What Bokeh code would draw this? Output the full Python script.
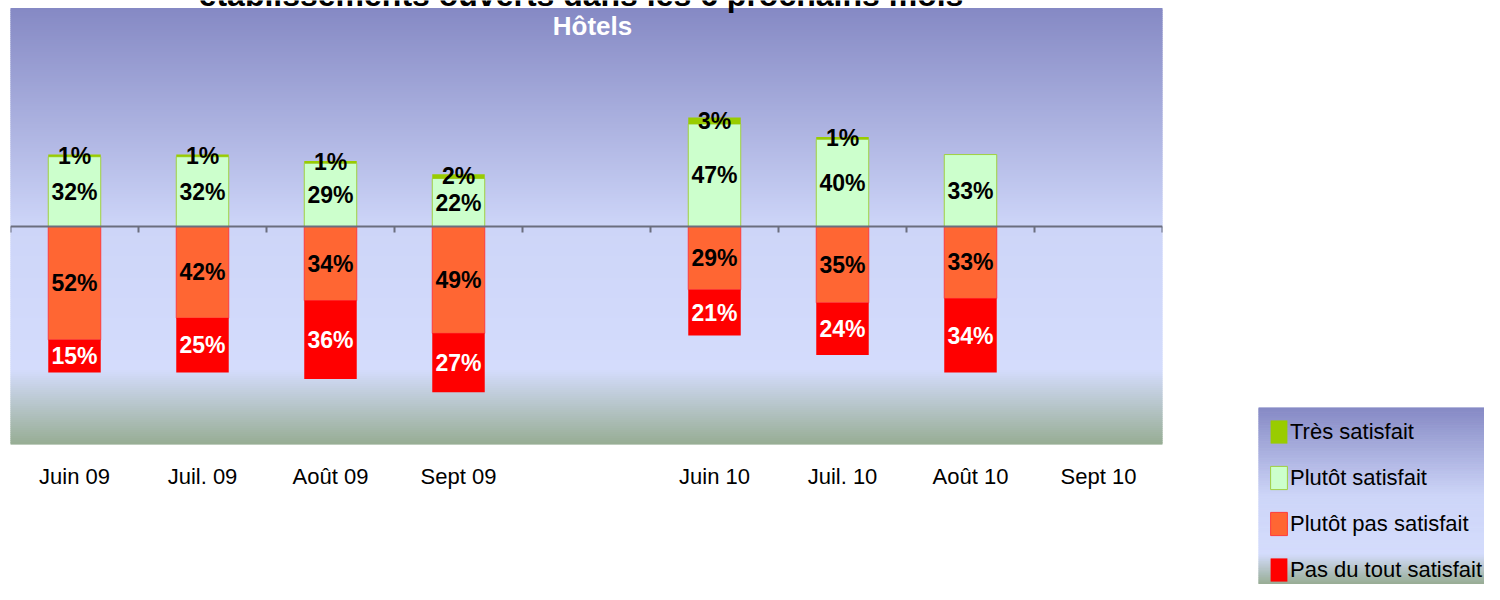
import numpy as np
from bokeh.plotting import figure
from bokeh.models import ColumnDataSource, Range1d, FixedTicker, Span, Label, Legend, LegendItem
from bokeh.layouts import row
from bokeh.core.properties import value
from bokeh.embed import file_html
from bokeh.resources import INLINE

# ---------------- data ----------------
categories = ["Juin 09", "Juil. 09", "Août 09", "Sept 09", "",
              "Juin 10", "Juil. 10", "Août 10", "Sept 10"]
tres_satisfait = [1, 1, 1, 2, None, 3, 1, None, None]
plutot_satisfait = [32, 32, 29, 22, None, 47, 40, 33, None]
plutot_pas_satisfait = [52, 42, 34, 49, None, 29, 35, 33, None]
pas_du_tout_satisfait = [15, 25, 36, 27, None, 21, 24, 34, None]

series_names = ["Très satisfait", "Plutôt satisfait", "Plutôt pas satisfait", "Pas du tout satisfait"]
series_colors = ["#99cc00", "#ccffcc", "#ff6633", "#ff0000"]
series_lines = [None, "#a0d040", "#ff3b3b", None]
label_colors = ["black", "black", "black", "white"]

title_text = "établissements ouverts dans les 6 prochains mois"
subtitle_text = "Hôtels"

FONT = "Liberation Sans"

# ---------------- gradient helper ----------------
stops = [(0.0, "#8589c4"), (0.5, "#cdd5f8"), (0.83, "#d4dcfc"), (1.0, "#97ad94")]


def hex2rgb(h):
    h = h.lstrip("#")
    return np.array([int(h[i:i + 2], 16) for i in (0, 2, 4)], dtype=float)


def grad_color(t):
    for (t0, c0), (t1, c1) in zip(stops[:-1], stops[1:]):
        if t <= t1:
            f = (t - t0) / (t1 - t0) if t1 > t0 else 0
            c = hex2rgb(c0) * (1 - f) + hex2rgb(c1) * f
            return "#%02x%02x%02x" % tuple(int(round(v)) for v in c)
    return stops[-1][1]


def add_gradient(fig, x0, x1, ytop, ybot, n=200):
    edges = np.linspace(ytop, ybot, n + 1)
    tops = edges[:-1]
    bots = edges[1:]
    cols = [grad_color((k + 0.5) / n) for k in range(n)]
    fig.quad(left=x0, right=x1, top=tops, bottom=bots, fill_color=cols, line_color=cols, line_width=1)


# ---------------- main figure ----------------
n = len(categories)
y_lo, y_hi = -100, 100
frame_h = 444
top_gap_px = 8                       # white strip above the chart area (title zone)
px = (y_hi - y_lo) / (frame_h - top_gap_px)
p = figure(width=1250, height=584, output_backend="svg", toolbar_location=None,
           x_range=Range1d(-0.5, n - 0.5), y_range=Range1d(y_lo, y_hi + top_gap_px * px),
           y_axis_location=None, min_border_left=10, min_border_right=88,
           min_border_top=0, min_border_bottom=584 - frame_h, frame_align=False)
p.outline_line_color = None
p.grid.visible = False
p.background_fill_color = "white"
p.border_fill_color = "white"

add_gradient(p, -0.5, n - 0.5, y_hi, y_lo, n=218)

# build stacked segments
seg = {k: dict(x=[], bottom=[], top=[], mid=[], txt=[]) for k in range(4)}
for i in range(n):
    ps = plutot_satisfait[i]
    if ps is None:
        continue
    ts = tres_satisfait[i]
    pp = plutot_pas_satisfait[i]
    pd_ = pas_du_tout_satisfait[i]
    parts = [
        (1, 0, ps, ps),
        (0, ps, ps + ts if ts else None, ts),
        (2, -pp, 0, pp),
        (3, -pp - pd_, -pp, pd_),
    ]
    for k, b, t, v in parts:
        if v is None or t is None:
            continue
        seg[k]["x"].append(i)
        seg[k]["bottom"].append(b)
        seg[k]["top"].append(t)
        seg[k]["mid"].append((b + t) / 2)
        seg[k]["txt"].append("%d%%" % v)

for k in [1, 0, 2, 3]:
    src = ColumnDataSource(seg[k])
    p.vbar(x="x", bottom="bottom", top="top", width=0.41, source=src,
           fill_color=series_colors[k],
           line_color=series_lines[k] if series_lines[k] else None,
           line_width=1)

for k in [1, 0, 2, 3]:
    src = ColumnDataSource(seg[k])
    p.text(x="x", y="mid", text="txt", source=src, text_align="center", text_baseline="middle",
           text_font=value(FONT), text_font_size="23px", text_font_style="bold",
           text_color=label_colors[k])

# zero line and boundary ticks
p.add_layout(Span(location=0, dimension="width", line_color="#6b6e7e", line_width=2))
bx = [i - 0.5 for i in range(n + 1)]
p.segment(x0=bx, x1=bx, y0=[0] * len(bx), y1=[-6 * px] * len(bx), line_color="#6b6e7e", line_width=2)

# x axis labels
ticks = [i for i, c in enumerate(categories) if c]
p.xaxis.ticker = FixedTicker(ticks=ticks)
p.xaxis.major_label_overrides = {i: categories[i] for i in ticks}
p.xaxis.axis_line_color = None
p.xaxis.major_tick_line_color = None
p.xaxis.minor_tick_line_color = None
p.xaxis.major_label_text_font = FONT
p.xaxis.major_label_text_font_size = "22px"
p.xaxis.major_label_text_color = "black"
p.xaxis.major_label_standoff = 13

p.add_layout(Label(x=4.047, y=y_hi - 17 * px, text=subtitle_text, text_align="center", text_baseline="middle",
                   text_font=FONT, text_font_size="26px", text_font_style="bold", text_color="white"))
p.add_layout(Label(x=3.957, y=y_hi + 14 * px, text=title_text, text_align="center", text_baseline="middle",
                   text_font=FONT, text_font_size="32px", text_font_style="bold", text_color="black"))

# ---------------- legend figure ----------------
q = figure(width=234, height=584, output_backend="svg", toolbar_location=None,
           x_range=Range1d(0, 1), y_range=Range1d(0, 1),
           x_axis_location=None, y_axis_location=None,
           min_border_left=8, min_border_right=0, min_border_top=407, min_border_bottom=0,
           frame_align=False)
q.outline_line_color = None
q.grid.visible = False
q.border_fill_color = "white"
add_gradient(q, 0, 1, 1, 0, n=100)

items = []
for k in range(4):
    # legend-only renderer, kept outside the visible range
    r = q.vbar(x=[-10], top=[0], bottom=[0], width=0.1, fill_color=series_colors[k],
               line_color=series_lines[k] if series_lines[k] else None, line_width=1)
    items.append(LegendItem(label=series_names[k], renderers=[r]))

legend = Legend(items=items, location="top_left", margin=0, padding=10,
                background_fill_alpha=0, border_line_alpha=0,
                label_text_font=FONT, label_text_font_size="22px", label_text_color="black",
                glyph_width=21, glyph_height=29, label_height=23, spacing=17, label_standoff=1)
q.add_layout(legend, "center")

layout = row(p, q, spacing=0)
open("out.html", "w").write(file_html(layout, INLINE))
